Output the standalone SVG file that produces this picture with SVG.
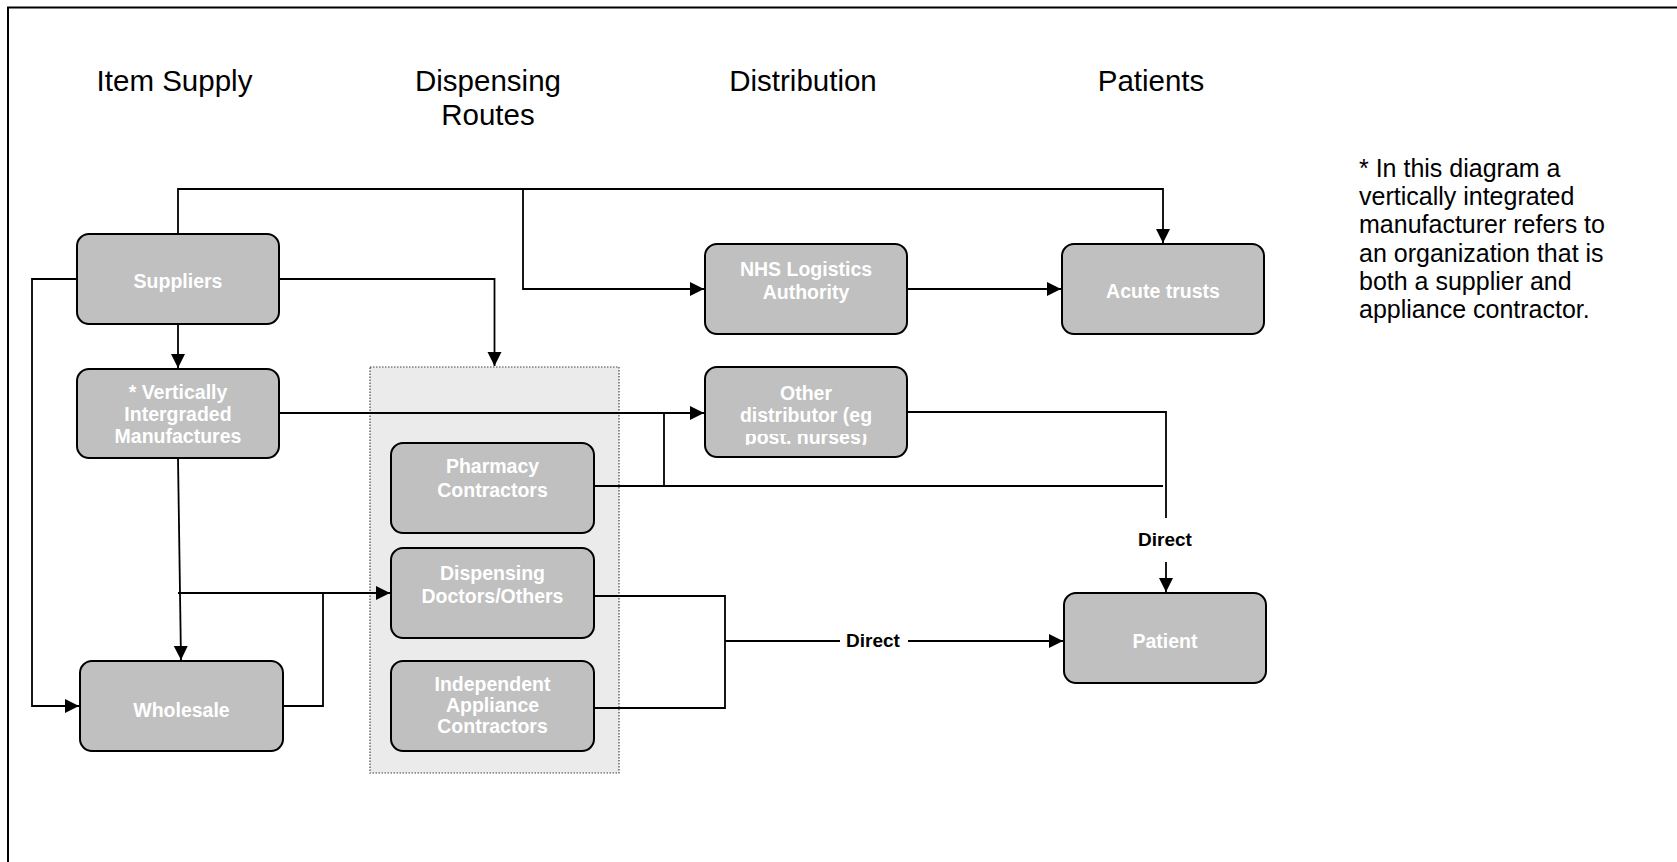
<svg xmlns="http://www.w3.org/2000/svg" width="1677" height="862" viewBox="0 0 1677 862">
<style>
.hdr{font-family:"Liberation Sans",Arial,sans-serif;font-size:29.5px;fill:#000;text-anchor:middle}
.note{font-family:"Liberation Sans",Arial,sans-serif;font-size:25px;fill:#000}
.box{fill:#c0c0c0;stroke:#000;stroke-width:2}
.bt{font-family:"Liberation Sans",Arial,sans-serif;font-size:19.5px;font-weight:bold;fill:#fff;text-anchor:middle}
.lbl{font-family:"Liberation Sans",Arial,sans-serif;font-size:19px;font-weight:bold;fill:#000;text-anchor:middle}
.ln{fill:none;stroke:#000;stroke-width:1.8}
.arr{fill:none;stroke:#000;stroke-width:1.8;marker-end:url(#ah)}
</style>
<defs>
<marker id="ah" markerWidth="15" markerHeight="15" refX="14" refY="7" orient="auto" markerUnits="userSpaceOnUse">
<path d="M0,0 L14,7 L0,14 Z" fill="#000"/>
</marker>
<clipPath id="clipOther"><rect x="705" y="434" width="202" height="11"/></clipPath>
</defs>
<rect width="1677" height="862" fill="#fff"/>
<path d="M8,862 V7.5 H1677" fill="none" stroke="#000" stroke-width="2"/>

<g id="headers">
<text class="hdr" x="174.5" y="91">Item Supply</text>
<text class="hdr" x="488" y="91">Dispensing</text>
<text class="hdr" x="488" y="125">Routes</text>
<text class="hdr" x="803" y="91">Distribution</text>
<text class="hdr" x="1151" y="91">Patients</text>
</g>

<g id="note">
<text class="note" x="1359" y="177">* In this diagram a</text>
<text class="note" x="1359" y="205">vertically integrated</text>
<text class="note" x="1359" y="233">manufacturer refers to</text>
<text class="note" x="1359" y="262">an organization that is</text>
<text class="note" x="1359" y="290">both a supplier and</text>
<text class="note" x="1359" y="318">appliance contractor.</text>
</g>

<g id="dispensing-group">
<rect x="370" y="367" width="249" height="406" fill="#ebebeb" stroke="#444" stroke-width="1.2" stroke-dasharray="1.5,1.5"/>
</g>

<g id="connectors">
<path class="arr" d="M178,234 V189 H1163 V243"/>
<path class="arr" d="M523,189 V289 H704"/>
<path class="arr" d="M907,289 H1061"/>
<path class="arr" d="M279,279 H494.5 V366"/>
<path class="arr" d="M77,279 H32 V706 H79"/>
<path class="arr" d="M178,324 V368"/>
<path class="arr" d="M279,413 H704"/>
<path class="ln" d="M664,413 V486"/>
<path class="ln" d="M594,486 H1163"/>
<path class="ln" d="M907,412 H1166 V518"/>
<path class="arr" d="M1166,562 V592"/>
<path class="arr" d="M178,458 L181,660"/>
<path class="arr" d="M178,593 H390"/>
<path class="ln" d="M283,706 H323 V593"/>
<path class="ln" d="M594,596 H725 V708 H594"/>
<path class="ln" d="M725,641 H840"/>
<path class="arr" d="M908,641 H1063"/>
<text class="lbl" x="1165" y="546">Direct</text>
<text class="lbl" x="873" y="647">Direct</text>
</g>

<g id="suppliers">
<rect class="box" x="77" y="234" width="202" height="90" rx="12"/>
<text class="bt" x="178" y="288">Suppliers</text>
</g>
<g id="vertically-integrated">
<rect class="box" x="77" y="369" width="202" height="89" rx="12"/>
<text class="bt" x="178" y="399">* Vertically</text>
<text class="bt" x="178" y="421">Intergraded</text>
<text class="bt" x="178" y="443">Manufactures</text>
</g>
<g id="wholesale">
<rect class="box" x="80" y="661" width="203" height="90" rx="12"/>
<text class="bt" x="181.5" y="717">Wholesale</text>
</g>
<g id="pharmacy">
<rect class="box" x="391" y="443" width="203" height="90" rx="12"/>
<text class="bt" x="492.5" y="473">Pharmacy</text>
<text class="bt" x="492.5" y="497">Contractors</text>
</g>
<g id="doctors">
<rect class="box" x="391" y="548" width="203" height="90" rx="12"/>
<text class="bt" x="492.5" y="580">Dispensing</text>
<text class="bt" x="492.5" y="603">Doctors/Others</text>
</g>
<g id="independent">
<rect class="box" x="391" y="661" width="203" height="90" rx="12"/>
<text class="bt" x="492.5" y="691">Independent</text>
<text class="bt" x="492.5" y="712">Appliance</text>
<text class="bt" x="492.5" y="733">Contractors</text>
</g>
<g id="nhs-logistics">
<rect class="box" x="705" y="244" width="202" height="90" rx="12"/>
<text class="bt" x="806" y="276">NHS Logistics</text>
<text class="bt" x="806" y="299">Authority</text>
</g>
<g id="other-distributor">
<rect class="box" x="705" y="367" width="202" height="90" rx="12"/>
<text class="bt" x="806" y="400">Other</text>
<text class="bt" x="806" y="422">distributor (eg</text>
<text class="bt" x="806" y="444" clip-path="url(#clipOther)">post. nurses)</text>
</g>
<g id="acute-trusts">
<rect class="box" x="1062" y="244" width="202" height="90" rx="12"/>
<text class="bt" x="1163" y="298">Acute trusts</text>
</g>
<g id="patient">
<rect class="box" x="1064" y="593" width="202" height="90" rx="12"/>
<text class="bt" x="1165" y="648">Patient</text>
</g>
</svg>
